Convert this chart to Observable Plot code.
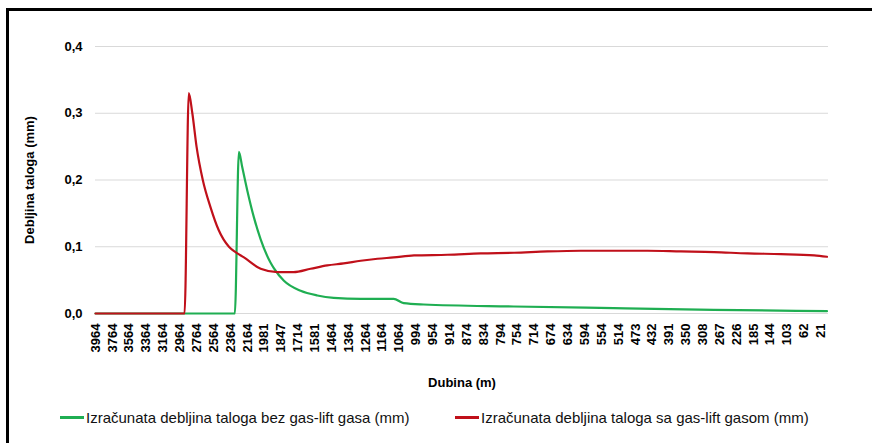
<!DOCTYPE html>
<html><head><meta charset="utf-8">
<script src="https://cdn.jsdelivr.net/npm/d3@7"></script>
<script src="https://cdn.jsdelivr.net/npm/@observablehq/plot@0.6"></script>
<style>
body{margin:0;background:#fff;}
#wrap{position:relative;width:872px;height:443px;overflow:hidden;font-family:"Liberation Sans",Arial,sans-serif;background:#fff;}
.bl{position:absolute;left:6px;top:8px;width:3px;height:440px;background:#000;}
.bt{position:absolute;left:6px;top:8px;width:866px;height:3px;background:#000;}
#legend{position:absolute;top:407px;left:0;width:872px;height:20px;font-size:15px;color:#111;}
.item{position:absolute;top:0;display:flex;align-items:center;white-space:nowrap;}
.sw{display:inline-block;width:24px;height:3px;margin-right:2px;}
#chart{position:absolute;left:0;top:0;}
</style></head><body><div id="wrap"><div id="chart"></div><div class="bl"></div><div class="bt"></div><div id="legend"></div></div>
<script>
const labels = ["3964","3764","3564","3364","3164","2964","2764","2564","2364","2164","1981","1847","1714","1581","1464","1364","1264","1164","1064","994","954","914","874","834","794","754","714","674","634","594","554","514","473","432","391","350","308","267","226","185","144","103","62","21"];
const yTicks = [0, 0.1, 0.2, 0.3, 0.4];
const seriesNames = ["Izračunata debljina taloga bez gas-lift gasa (mm)", "Izračunata debljina taloga sa gas-lift gasom (mm)"];
const seriesColors = ["#1fae52", "#c0101a"];
// x positions in label-index units (category axis), values in mm
const greenPos = [0, 8.26, 8.50, 8.70, 9.00, 9.39, 9.79, 10.38, 10.57, 11.17, 12.16, 13.15, 14.12, 15.72, 17.67, 18.27, 19.45, 24.79, 30.72, 36.65, 43.36];
const greenVal = [0, 0, 0.242, 0.219, 0.184, 0.144, 0.111, 0.076, 0.068, 0.049, 0.034, 0.027, 0.0235, 0.022, 0.022, 0.0155, 0.0135, 0.0105, 0.008, 0.0055, 0.0035];
const redPos = [0, 5.28, 5.53, 5.74, 5.99, 6.36, 6.82, 7.30, 7.91, 8.30, 8.80, 9.79, 10.78, 11.74, 12.75, 13.74, 14.71, 15.72, 16.71, 17.67, 18.88, 20.86, 22.84, 24.81, 26.79, 28.77, 30.74, 32.72, 34.70, 36.67, 38.65, 40.63, 42.60, 43.36];
const redVal = [0, 0, 0.33, 0.30, 0.25, 0.20, 0.159, 0.125, 0.10, 0.092, 0.084, 0.067, 0.062, 0.062, 0.067, 0.072, 0.075, 0.079, 0.082, 0.084, 0.087, 0.088, 0.090, 0.091, 0.093, 0.094, 0.094, 0.094, 0.093, 0.092, 0.090, 0.089, 0.087, 0.085];

const green = greenPos.map((x, i) => ({x, y: greenVal[i]}));
const red = redPos.map((x, i) => ({x, y: redVal[i]}));

const chart = Plot.plot({
  width: 872, height: 400,
  marginLeft: 95, marginRight: 44, marginTop: 46, marginBottom: 87,
  style: {fontFamily: "'Liberation Sans', Arial, sans-serif", fontSize: "13px", fontWeight: "bold", color: "#000", background: "transparent"},
  x: {domain: [0, 43.45]},
  y: {domain: [0, 0.4]},
  marks: [
    Plot.ruleY(yTicks, {stroke: "#d9d9d9", strokeWidth: 1}),
    Plot.axisY({ticks: yTicks, tickSize: 0, tickPadding: 13, tickFormat: d => d.toFixed(1).replace(".", ","), label: "Debljina taloga (mm)", labelAnchor: "center", labelArrow: false, labelOffset: 71}),
    Plot.axisX({ticks: d3.range(labels.length), tickSize: 0, tickRotate: -90, tickPadding: 10, tickFormat: i => labels[i], label: "Dubina (m)", labelAnchor: "center", labelArrow: false, labelOffset: 73}),
    Plot.line(green, {x: "x", y: "y", stroke: seriesColors[0], strokeWidth: 2.2, curve: "monotone-x"}),
    Plot.line(red, {x: "x", y: "y", stroke: seriesColors[1], strokeWidth: 2.2, curve: "monotone-x"})
  ]
});
document.getElementById("chart").appendChild(chart);

const legend = document.getElementById("legend");
const lx = [60, 455];
seriesNames.forEach((n, i) => {
  const it = document.createElement("div");
  it.className = "item";
  it.style.left = lx[i] + "px";
  it.style.top = "2px";
  it.innerHTML = `<span class="sw" style="background:${seriesColors[i]}"></span><span>${n}</span>`;
  legend.appendChild(it);
});
</script></body></html>
